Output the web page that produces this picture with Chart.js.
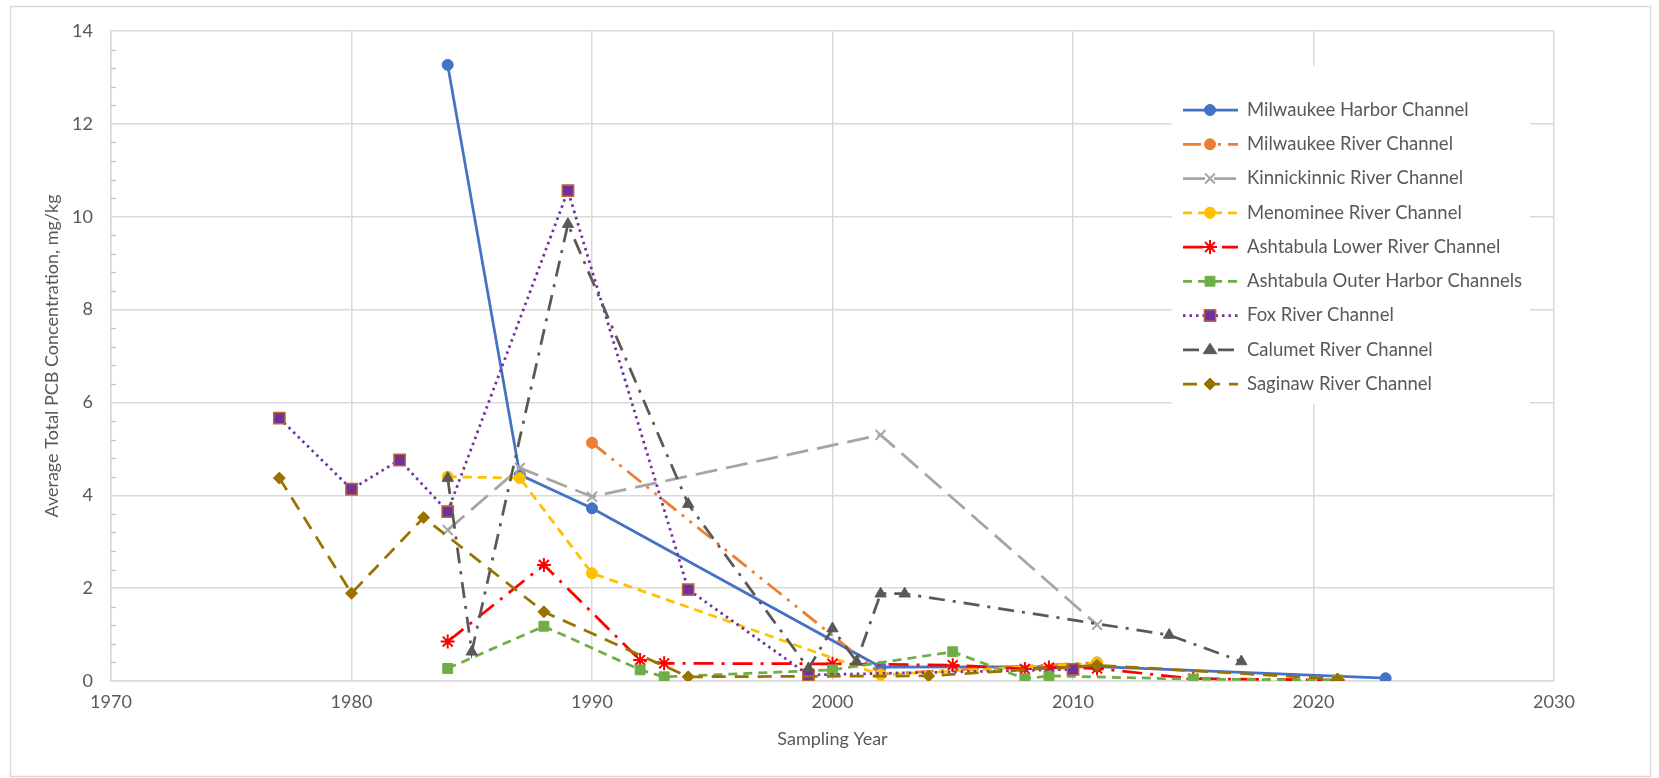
<!DOCTYPE html>
<html lang="en">
<head>
<meta charset="UTF-8">
<title>Average Total PCB Concentration by Sampling Year</title>
<script src="https://cdn.jsdelivr.net/npm/chart.js"></script>
<style>
  html, body { margin: 0; padding: 0; background: #fff; }
  #wrap { width: 1659px; height: 778px; }
</style>
</head>
<body>
<div id="wrap"><canvas id="pcbChart" width="1659" height="778"></canvas></div>
<script>
// values (year, mg/kg)
const harborYears = [1984, 1987, 1990, 2002, 2011, 2023];
const harborVals  = [13.27, 4.44, 3.72, 0.30, 0.31, 0.06];

const milwRiverYears = [1990, 2002, 2011];
const milwRiverVals  = [5.13, 0.15, 0.40];

const kinnickYears = [1984, 1987, 1990, 2002, 2011];
const kinnickVals  = [3.25, 4.59, 3.97, 5.30, 1.21];

const menomineeYears = [1984, 1987, 1990, 2002, 2011];
const menomineeVals  = [4.40, 4.37, 2.32, 0.13, 0.39];

const ashLowerYears = [1984, 1988, 1992, 1993, 2000, 2005, 2008, 2009, 2011, 2015, 2021];
const ashLowerVals  = [0.85, 2.50, 0.45, 0.38, 0.37, 0.34, 0.26, 0.29, 0.27, 0.05, 0.02];

const ashOuterYears = [1984, 1988, 1992, 1993, 2000, 2005, 2008, 2009, 2015, 2021];
const ashOuterVals  = [0.27, 1.18, 0.24, 0.09, 0.24, 0.63, 0.05, 0.11, 0.04, 0.02];

const foxYears = [1977, 1980, 1982, 1984, 1989, 1994, 1999, 2010];
const foxVals  = [5.66, 4.13, 4.76, 3.65, 10.56, 1.97, 0.13, 0.25];

const calumetYears = [1984, 1985, 1989, 1994, 1999, 2000, 2001, 2002, 2003, 2014, 2017];
const calumetVals  = [4.37, 0.63, 9.84, 3.81, 0.27, 1.13, 0.42, 1.88, 1.88, 0.99, 0.42];

const saginawYears = [1977, 1980, 1983, 1988, 1994, 2004, 2011, 2021];
const saginawVals  = [4.37, 1.89, 3.52, 1.49, 0.09, 0.11, 0.34, 0.04];

const xTicks = [1970, 1980, 1990, 2000, 2010, 2020, 2030];
const yTicks = [0, 2, 4, 6, 8, 10, 12, 14];
const yMinorStep = 0.4;

const FONT = 'Lato, "Open Sans", sans-serif';
const TXT = '#595959';
const GRID = '#d9d9d9';

function pts(xs, ys) {
  return xs.map((x, i) => ({ x: x, y: ys[i] }));
}

function series(label, xs, ys, s) {
  return {
    label: label,
    data: pts(xs, ys),
    borderColor: s.color,
    backgroundColor: s.fill || s.color,
    borderWidth: 2.75,
    borderDash: s.dash,
    pointStyle: s.point,
    pointRadius: s.r,
    pointBackgroundColor: s.fill || s.color,
    pointBorderColor: s.edge || s.color,
    pointBorderWidth: s.pbw || 1,
    tension: 0,
    fill: false
  };
}

const datasets = [
  series('Milwaukee Harbor Channel', harborYears, harborVals,
    { color: '#4472C4', dash: [], point: 'circle', r: 5.5 }),
  series('Milwaukee River Channel', milwRiverYears, milwRiverVals,
    { color: '#ED7D31', dash: [18, 7, 3, 7, 3, 7], point: 'circle', r: 5.5 }),
  series('Kinnickinnic River Channel', kinnickYears, kinnickVals,
    { color: '#A5A5A5', dash: [22, 9], point: 'crossRot', r: 7, pbw: 2 }),
  series('Menominee River Channel', menomineeYears, menomineeVals,
    { color: '#FFC000', dash: [9, 6], point: 'circle', r: 5.5 }),
  series('Ashtabula Lower River Channel', ashLowerYears, ashLowerVals,
    { color: '#FF0000', dash: [20, 8, 3, 8], point: 'star', r: 7, pbw: 2 }),
  series('Ashtabula Outer Harbor Channels', ashOuterYears, ashOuterVals,
    { color: '#70AD47', dash: [9, 6], point: 'rect', r: 7 }),
  series('Fox River Channel', foxYears, foxVals,
    { color: '#7030A0', dash: [2.5, 4], point: 'rect', r: 8, edge: '#C0692E', pbw: 1.5 }),
  series('Calumet River Channel', calumetYears, calumetVals,
    { color: '#595959', dash: [16, 8, 3, 8], point: 'triangle', r: 6.5 }),
  series('Saginaw River Channel', saginawYears, saginawVals,
    { color: '#997300', dash: [14, 9], point: 'rectRot', r: 6 })
];
// later series sit on top, as in the original
datasets.forEach((d, i) => { d.order = datasets.length - i; });

function marker(ctx, style, x, y, r, fill, edge, bw) {
  ctx.save();
  ctx.setLineDash([]);
  ctx.fillStyle = fill;
  ctx.strokeStyle = edge;
  ctx.lineWidth = bw;
  ctx.beginPath();
  if (style === 'circle') {
    ctx.arc(x, y, r, 0, Math.PI * 2);
  } else if (style === 'rect') {
    const s = r * Math.SQRT1_2;
    ctx.rect(x - s, y - s, 2 * s, 2 * s);
  } else if (style === 'rectRot') {
    ctx.moveTo(x, y - r); ctx.lineTo(x + r, y); ctx.lineTo(x, y + r); ctx.lineTo(x - r, y); ctx.closePath();
  } else if (style === 'triangle') {
    const w = r * 1.3;
    ctx.moveTo(x, y - r); ctx.lineTo(x + w * 0.8, y + r * 0.6); ctx.lineTo(x - w * 0.8, y + r * 0.6); ctx.closePath();
  } else if (style === 'crossRot' || style === 'star') {
    const d = r * Math.SQRT1_2;
    ctx.moveTo(x - d, y - d); ctx.lineTo(x + d, y + d);
    ctx.moveTo(x - d, y + d); ctx.lineTo(x + d, y - d);
    if (style === 'star') {
      ctx.moveTo(x, y - r); ctx.lineTo(x, y + r);
      ctx.moveTo(x - r, y); ctx.lineTo(x + r, y);
    }
    ctx.stroke();
    ctx.restore();
    return;
  }
  ctx.fill();
  if (bw > 0) ctx.stroke();
  ctx.restore();
}

const frame = {
  id: 'frame',
  beforeDraw(chart) {
    const c = chart.ctx;
    c.save();
    c.fillStyle = '#fff';
    c.fillRect(0, 0, chart.width, chart.height);
    c.strokeStyle = GRID;
    c.lineWidth = 1.5;
    c.strokeRect(10.5, 6.5, 1640, 770);
    c.restore();
  },
  afterDraw(chart) {
    const c = chart.ctx;
    const y = chart.scales.y, x = chart.scales.x;
    // minor ticks on value axis
    c.save();
    c.strokeStyle = '#bfbfbf';
    c.lineWidth = 1.2;
    for (let v = yMinorStep; v < 14; v += yMinorStep) {
      if (Math.abs(v / 2 - Math.round(v / 2)) < 1e-6) continue;
      const py = Math.round(y.getPixelForValue(v)) + 0.5;
      c.beginPath();
      c.moveTo(x.left, py);
      c.lineTo(x.left + 5, py);
      c.stroke();
    }
    c.restore();

    // legend inside the plot
    c.save();
    c.fillStyle = '#fff';
    c.fillRect(1172, 66, 358, 338);
    c.font = '18.5px ' + FONT;
    c.textBaseline = 'middle';
    c.textAlign = 'left';
    chart.data.datasets.forEach((d, i) => {
      const ly = 110 + i * 34.25;
      c.strokeStyle = d.borderColor;
      c.lineWidth = d.borderWidth;
      c.setLineDash(d.borderDash);
      c.beginPath();
      c.moveTo(1183, ly);
      c.lineTo(1238, ly);
      c.stroke();
      marker(c, d.pointStyle, 1210, ly, d.pointRadius, d.pointBackgroundColor, d.pointBorderColor, d.pointBorderWidth);
      c.fillStyle = TXT;
      c.fillText(d.label, 1247, ly);
    });
    c.restore();
  }
};

new Chart(document.getElementById('pcbChart'), {
  type: 'line',
  data: { datasets: datasets },
  plugins: [frame],
  options: {
    responsive: false,
    animation: false,
    devicePixelRatio: 1,
    layout: { padding: { top: 31, right: 105, left: 0, bottom: 0 } },
    elements: { line: { borderCapStyle: 'butt' } },
    plugins: { legend: { display: false }, tooltip: { enabled: false } },
    scales: {
      x: {
        type: 'linear',
        min: 1970,
        max: 2030,
        afterBuildTicks: s => { s.ticks = xTicks.map(v => ({ value: v })); },
        afterFit: s => { s.height = 97; },
        grid: { color: GRID, lineWidth: 1.5, drawTicks: false },
        border: { color: GRID, width: 1.5 },
        ticks: { color: TXT, font: { family: FONT, size: 18 }, padding: 10,
                 callback: v => String(v) },
        title: { display: true, text: 'Sampling Year', color: TXT,
                 font: { family: FONT, size: 18 }, padding: { top: 0, bottom: 28 } }
      },
      y: {
        min: 0,
        max: 14,
        afterBuildTicks: s => { s.ticks = yTicks.map(v => ({ value: v })); },
        afterFit: s => { s.width = 111; },
        grid: { color: GRID, lineWidth: 1.5, drawTicks: false },
        border: { color: GRID, width: 1.5 },
        ticks: { color: TXT, font: { family: FONT, size: 18 }, padding: 18,
                 callback: v => String(v) },
        title: { display: true, text: 'Average Total PCB Concentration, mg/kg', color: TXT,
                 font: { family: FONT, size: 18 }, padding: { top: 41, bottom: 0 } }
      }
    }
  }
});
</script>
</body>
</html>
